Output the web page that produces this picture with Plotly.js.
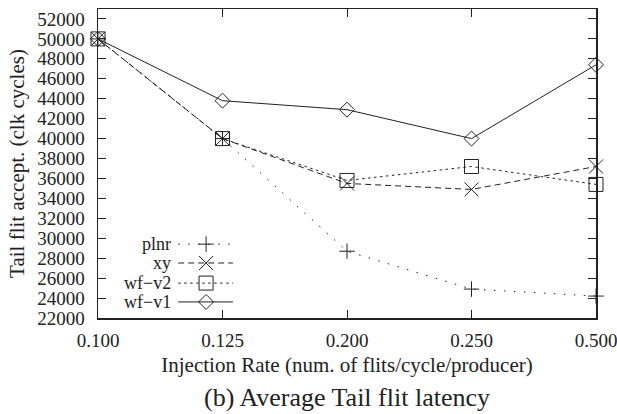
<!DOCTYPE html>
<html><head><meta charset="utf-8">
<script src="https://cdn.plot.ly/plotly-3.0.1.min.js"></script>
<style>html,body{margin:0;padding:0;background:#fff}#c{width:617px;height:414px}</style>
</head><body><div id="c"></div>
<script>
const categories = ["0.100", "0.125", "0.200", "0.250", "0.500"];
const plnr = [50000, 40000, 28700, 24900, 24200];
const xy   = [50000, 40000, 35500, 34900, 37200];
const wfv2 = [50000, 40000, 35800, 37200, 35400];
const wfv1 = [50000, 43800, 42900, 40000, 47400];
const seriesNames = ["plnr", "xy", "wf\u2212v2", "wf\u2212v1"];
const yTicks = [22000,24000,26000,28000,30000,32000,34000,36000,38000,40000,42000,44000,46000,48000,50000,52000];

const ink = "#222";
const styles = [
  {dash: "1.5px,8.5px", symbol: "cross-thin-open", size: 11},
  {dash: "6px,4px", symbol: "x-thin-open", size: 14},
  {dash: "2.5px,3.5px", symbol: "square-open", size: 14},
  {dash: "solid", symbol: "diamond-open", size: 11.5}
];
const values = [plnr, xy, wfv2, wfv1];

const traces = values.map((v, i) => ({
  x: categories, y: v, type: "scatter", mode: "lines+markers",
  name: seriesNames[i], showlegend: false, cliponaxis: false,
  line: {color: ink, width: 1, dash: styles[i].dash},
  marker: {symbol: styles[i].symbol, size: styles[i].size, color: ink, line: {color: ink, width: 1}}
}));

// custom gnuplot-style key (text then sample), in paper-like coords on hidden axes
const keyRowsY = [0.239, 0.178, 0.113, 0.052];
const keyTextX = 0.151, keyL0 = 0.161, keyL1 = 0.271, keyM = 0.217;
const shapes = [];
const annotations = [];
keyRowsY.forEach((yy, i) => {
  shapes.push({type: "line", xref: "paper", yref: "paper", x0: keyL0, x1: keyL1, y0: yy, y1: yy,
    line: {color: ink, width: 1, dash: styles[i].dash}});
  annotations.push({xref: "paper", yref: "paper", x: keyTextX, y: yy, xanchor: "right", yanchor: "middle",
    text: seriesNames[i], showarrow: false, font: {family: "Liberation Serif", size: 18, color: ink}});
  traces.push({x: [keyM], y: [yy], xaxis: "x2", yaxis: "y2", type: "scatter", mode: "markers",
    showlegend: false, hoverinfo: "skip", cliponaxis: false,
    marker: {symbol: styles[i].symbol, size: styles[i].size, color: ink, line: {color: ink, width: 1}}});
});
annotations.push({xref: "paper", yref: "paper", x: 0.5, y: -0.258, xanchor: "center", yanchor: "middle",
  text: "(b) Average Tail flit latency", showarrow: false,
  font: {family: "Liberation Serif", size: 26, color: ink}});

const tickFont = {family: "Liberation Serif", size: 19, color: ink};
const titleFont = {family: "Liberation Serif", size: 21, color: ink};
const layout = {
  width: 617, height: 414,
  margin: {l: 98, r: 21, t: 9, b: 96},
  paper_bgcolor: "#fff", plot_bgcolor: "#fff",
  font: tickFont,
  showlegend: false,
  xaxis: {type: "category", range: [0, 4], showgrid: false, zeroline: false,
    showline: true, linecolor: ink, linewidth: 1.5, mirror: "ticks",
    ticks: "inside", ticklen: 8, tickcolor: ink, tickwidth: 1,
    tickfont: tickFont, ticklabelstandoff: 5,
    title: {text: "Injection Rate (num. of flits/cycle/producer)", font: titleFont, standoff: 7}},
  yaxis: {range: [22000, 53000], tickvals: yTicks, ticktext: yTicks.map(String),
    showgrid: false, zeroline: false,
    showline: true, linecolor: ink, linewidth: 1.5, mirror: "ticks",
    ticks: "inside", ticklen: 8, tickcolor: ink, tickwidth: 1,
    tickfont: tickFont, ticklabelstandoff: 8,
    title: {text: "Tail flit accept. (clk cycles)", font: titleFont, standoff: 7}},
  xaxis2: {overlaying: "x", range: [0, 1], visible: false, domain: [0, 1]},
  yaxis2: {overlaying: "y", range: [0, 1], visible: false},
  shapes: shapes,
  annotations: annotations
};
Plotly.newPlot("c", traces, layout, {displayModeBar: false, staticPlot: true});
</script></body></html>
